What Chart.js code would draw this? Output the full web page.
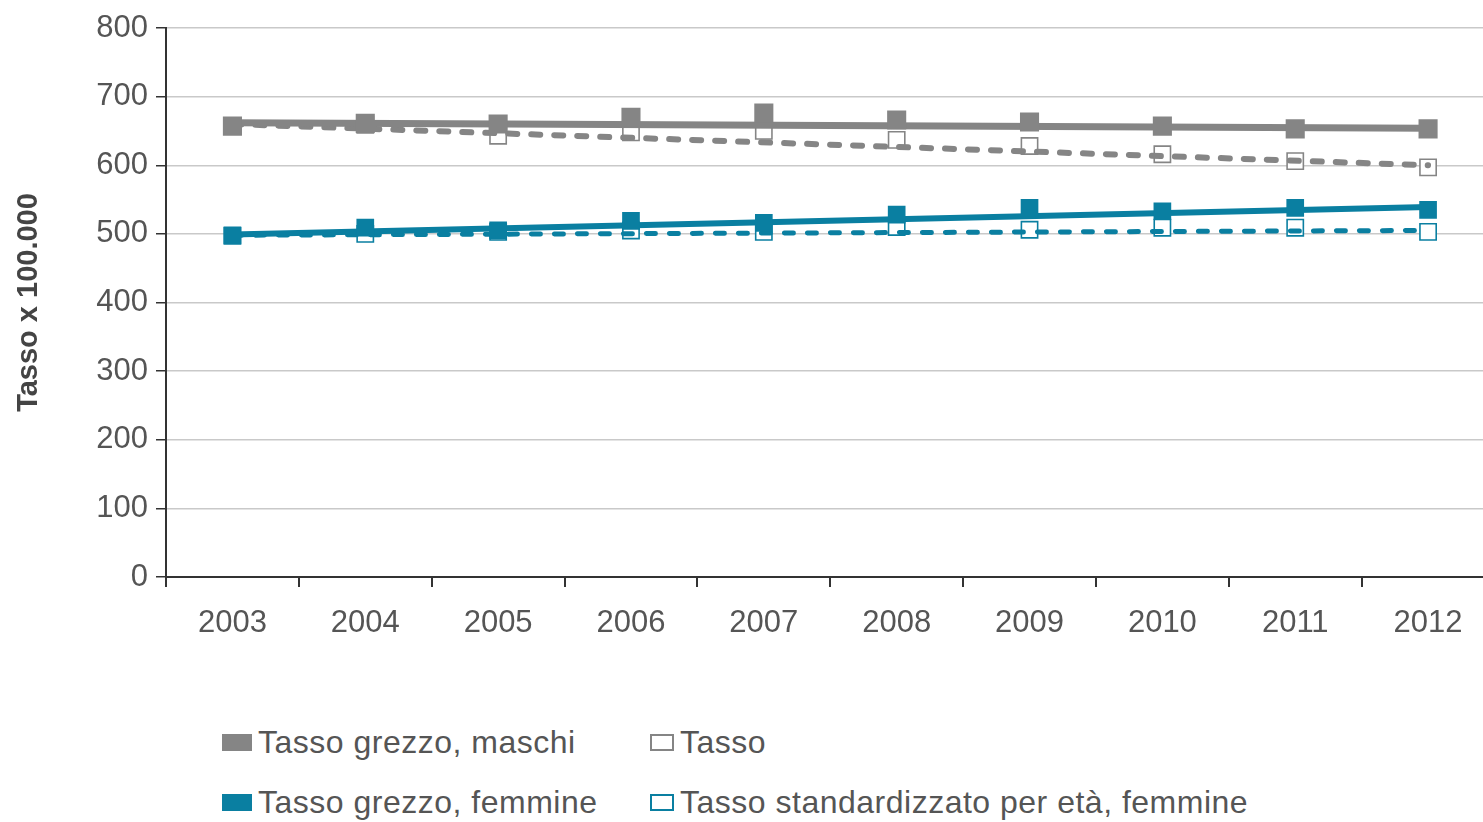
<!DOCTYPE html>
<html>
<head>
<meta charset="utf-8">
<script src="https://cdn.jsdelivr.net/npm/chart.js@4.4.1/dist/chart.umd.min.js"></script>
<style>
  html, body { margin: 0; padding: 0; background: #fff; overflow: hidden; }
  #wrap { position: relative; width: 1483px; height: 822px; overflow: hidden; }
  #c { position: absolute; left: 0; top: 0; }
  .leg { position: absolute; font: 32px 'Liberation Sans', sans-serif; color: #555; letter-spacing: 0.5px;
         display: flex; align-items: center; white-space: nowrap; line-height: 1; }
  .sw { display: inline-block; height: 17px; margin-right: 6px; box-sizing: border-box; }
</style>
</head>
<body>
<div id="wrap">
  <canvas id="c" width="1508" height="660"></canvas>
  <div id="legend"></div>
</div>
<script>
'use strict';

// ── DATA ──────────────────────────────────────────────────────────
const YEARS = ['2003','2004','2005','2006','2007','2008','2009','2010','2011','2012'];

const grezzoMaschi   = [657, 661, 660, 670, 676, 666, 663, 657, 653, 653];
const stdMaschi      = [657, 659, 643, 648, 650, 637, 628, 616, 606, 597];
const grezzoFemmine  = [498, 509, 505, 519, 516, 528, 538, 533, 538, 535];
const stdFemmine     = [497, 500, 503, 505, 503, 510, 506, 509, 509, 503];

// trend lines: endpoints
const trendGrezzoM = [662, null, null, null, null, null, null, null, null, 654];
const trendStdM    = [660, null, null, null, null, null, null, null, null, 600];
const trendGrezzoF = [499, null, null, null, null, null, null, null, null, 539];
const trendStdF    = [498, null, null, null, null, null, null, null, null, 505];

const LEGEND_LABELS = [
  'Tasso grezzo, maschi', 'Tasso',
  'Tasso grezzo, femmine', 'Tasso standardizzato per età, femmine'
];

// ── STYLE ─────────────────────────────────────────────────────────
const GRAY = '#858585';
const TEAL = '#0a7fa1';
const FONT = "'Liberation Sans', sans-serif";

function markers(data, color, filled, order, r) {
  return {
    data, order, showLine: false,
    pointStyle: 'rect',
    pointRadius: r,
    pointBackgroundColor: filled ? color : '#fff',
    pointBorderColor: color,
    pointBorderWidth: filled ? 0 : 1.6
  };
}

function trend(data, color, width, dashed, order) {
  return {
    data, order, spanGaps: true,
    borderColor: color,
    borderWidth: width,
    borderDash: dashed ? [9, 14] : [],
    borderCapStyle: dashed ? 'round' : 'butt',
    pointRadius: 0,
    tension: 0
  };
}

const datasets = [
  markers(stdMaschi, GRAY, false, 4, 11.5),
  markers(stdFemmine, TEAL, false, 4, 11.5),
  trend(trendStdM, GRAY, 6, true, 3),
  trend(trendStdF, TEAL, 5, true, 3),
  trend(trendGrezzoM, GRAY, 7, false, 2),
  trend(trendGrezzoF, TEAL, 6, false, 2),
  markers(grezzoMaschi, GRAY, true, 1, 13.5),
  markers(grezzoFemmine, TEAL, true, 1, 12.5)
];

// ── CHART ─────────────────────────────────────────────────────────
new Chart(document.getElementById('c').getContext('2d'), {
  type: 'line',
  data: { labels: YEARS, datasets },
  options: {
    responsive: false,
    animation: false,
    layout: { padding: { top: 28, right: 6, bottom: 13, left: 0 } },
    plugins: { legend: { display: false }, tooltip: { enabled: false } },
    scales: {
      x: {
        offset: true,
        grid: { offset: true, drawOnChartArea: false, drawTicks: true, tickLength: 10, tickColor: '#333', lineWidth: 2 },
        border: { color: '#333', width: 2 },
        ticks: { color: '#555', font: { family: FONT, size: 31 }, padding: 18 },
        afterFit: s => { s.height = 70; }
      },
      y: {
        min: 0, max: 800,
        ticks: { stepSize: 100, color: '#555', font: { family: FONT, size: 31 }, padding: 8 },
        grid: { color: '#c9c9c9', lineWidth: 1.5, tickColor: '#333', tickLength: 10 },
        border: { color: '#333', width: 2 },
        title: {
          display: true, text: 'Tasso x 100.000', color: '#444',
          font: { family: FONT, size: 29, weight: 'bold' },
          padding: { top: 12, bottom: 0 }
        },
        afterFit: s => { s.width = 166; }
      }
    }
  }
});

// ── LEGEND (HTML) ─────────────────────────────────────────────────
const legendPos = [[222, 743], [650, 743], [222, 803], [650, 803]];
const legendSw = [
  { c: GRAY, f: true }, { c: GRAY, f: false },
  { c: TEAL, f: true }, { c: TEAL, f: false }
];
const legEl = document.getElementById('legend');
LEGEND_LABELS.forEach((txt, i) => {
  const d = document.createElement('div');
  d.className = 'leg';
  d.style.left = legendPos[i][0] + 'px';
  d.style.top = (legendPos[i][1] - 17) + 'px';
  const s = document.createElement('span');
  s.className = 'sw';
  const sw = legendSw[i];
  if (sw.f) { s.style.width = '30px'; s.style.background = sw.c; }
  else { s.style.width = '24px'; s.style.border = '2px solid ' + sw.c; s.style.background = '#fff'; }
  d.appendChild(s);
  d.appendChild(document.createTextNode(txt));
  legEl.appendChild(d);
});
</script>
</body>
</html>
